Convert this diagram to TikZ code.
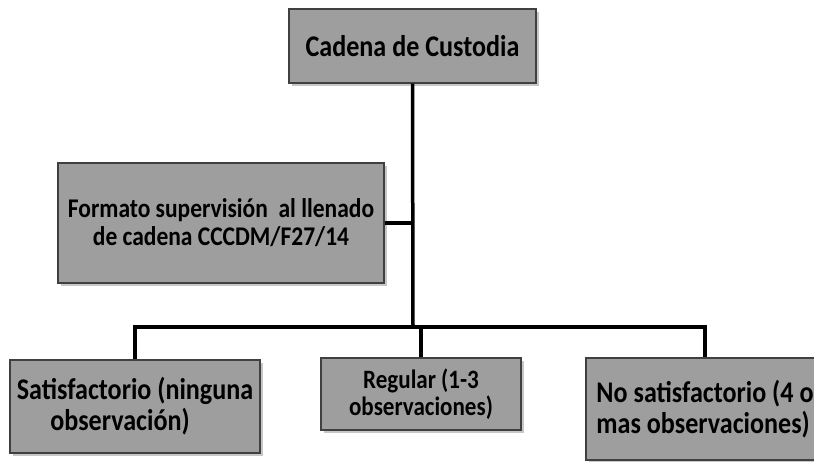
\documentclass[tikz,border=0pt]{standalone}
\usepackage{fontspec}
\setmainfont{Carlito}[FakeStretch=0.87]
\usetikzlibrary{shadows}
\tikzset{
  box/.style={draw=black!75, line width=1.5pt, fill=black!38, align=center,
    font=\bfseries, inner sep=2pt,
    drop shadow={shadow xshift=3pt, shadow yshift=-3pt, fill=black!22, opacity=1}},
  conn/.style={draw=black, line width=3.5pt}
}
\begin{document}
\begin{tikzpicture}[x=1pt,y=-1pt]
\useasboundingbox (0,0) rectangle (814,462);
\node[box, minimum width=247pt, minimum height=74pt, font=\bfseries\fontsize{30}{34}\selectfont] (top) at (412.5,46) {Cadena de Custodia};
\node[box, minimum width=326pt, minimum height=120pt, font=\bfseries\fontsize{27}{28}\selectfont] (mid) at (221,223) {Formato supervisión\ \ al llenado\\de cadena CCCDM/F27/14};
\node[box, minimum width=250pt, minimum height=93pt, font=\bfseries\fontsize{30}{31}\selectfont] (b1) at (135,406.5) {Satisfactorio (ninguna\\\hspace*{-30pt}observación)};
\node[box, minimum width=200pt, minimum height=72pt, font=\bfseries\fontsize{26.5}{27}\selectfont] (b2) at (421,394) {Regular (1-3\\observaciones)};
\node[box, minimum width=238pt, minimum height=102pt, font=\bfseries\fontsize{30}{31}\selectfont, align=left] (b3) at (705,409) {No satisfactorio (4 o\\mas observaciones)};
\coordinate (bus) at (413,327);
\draw[conn] (top.south) -- (bus);
\draw[conn] (mid.east) -- (mid.east -| bus);
\draw[conn] (b1.north) |- (bus);
\draw[conn] (bus) -| (b3.north);
\draw[conn] (b2.north) -- (b2.north |- bus);
\end{tikzpicture}
\end{document}
